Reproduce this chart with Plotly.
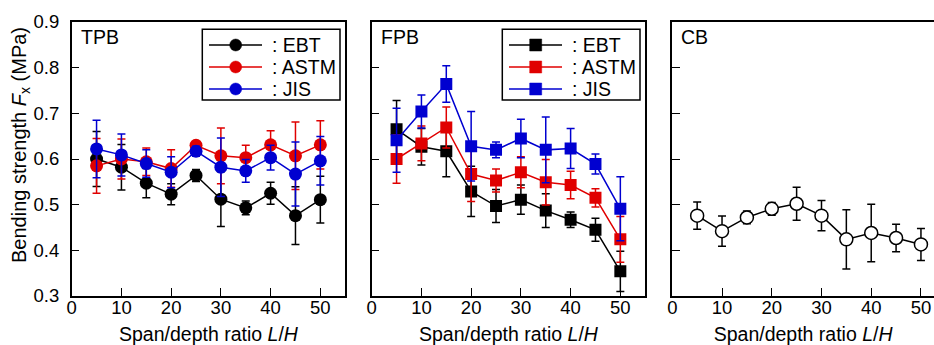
import plotly.graph_objects as go

# ---------------- data ----------------
ratio = [5, 10, 15, 20, 25, 30, 35, 40, 45, 50]

tpb_ebt = [0.600, 0.582, 0.547, 0.523, 0.564, 0.512, 0.493, 0.525, 0.476, 0.511]
tpb_ebt_err = [0.060, 0.050, 0.032, 0.023, 0.013, 0.060, 0.015, 0.024, 0.063, 0.051]
tpb_astm = [0.585, 0.600, 0.594, 0.579, 0.630, 0.607, 0.603, 0.631, 0.607, 0.631]
tpb_astm_err = [0.060, 0.044, 0.030, 0.041, 0.006, 0.061, 0.027, 0.031, 0.074, 0.053]
tpb_jis = [0.622, 0.609, 0.590, 0.571, 0.617, 0.582, 0.574, 0.603, 0.567, 0.596]
tpb_jis_err = [0.063, 0.046, 0.030, 0.034, 0.011, 0.064, 0.025, 0.027, 0.070, 0.053]

fpb_ebt = [0.665, 0.627, 0.617, 0.529, 0.497, 0.511, 0.487, 0.467, 0.445, 0.354]
fpb_ebt_err = [0.063, 0.040, 0.056, 0.055, 0.036, 0.032, 0.037, 0.017, 0.025, 0.044]
fpb_astm = [0.600, 0.634, 0.669, 0.567, 0.553, 0.571, 0.549, 0.543, 0.515, 0.424]
fpb_astm_err = [0.053, 0.038, 0.045, 0.060, 0.025, 0.034, 0.050, 0.030, 0.020, 0.050]
fpb_jis = [0.641, 0.704, 0.764, 0.628, 0.620, 0.645, 0.620, 0.623, 0.589, 0.491]
fpb_jis_err = [0.070, 0.036, 0.040, 0.076, 0.017, 0.042, 0.072, 0.044, 0.022, 0.070]

cb = [0.476, 0.442, 0.472, 0.491, 0.502, 0.476, 0.424, 0.438, 0.427, 0.413]
cb_err = [0.030, 0.033, 0.014, 0.014, 0.036, 0.033, 0.065, 0.063, 0.030, 0.035]

y_ticks = [0.3, 0.4, 0.5, 0.6, 0.7, 0.8, 0.9]
x_ticks = [0, 10, 20, 30, 40, 50]
panel_names = ["TPB", "FPB", "CB"]
method_names = [": EBT", ": ASTM", ": JIS"]

# ---------------- style ----------------
W, H = 934, 345
BLACK, RED, BLUE = "#000000", "#e00000", "#0000d0"
FONT = "Liberation Sans, Arial, sans-serif"
colors = [BLACK, RED, BLUE]

def px_x(p):
    return p / W

def px_y(p):
    return 1 - p / H

domains = [(71.7, 345.2), (371.7, 645.2), (672.3, 934.0)]
x_ranges = [[0, 55], [0, 55], [0, (934.0 - 672.3) / 4.973]]
y_dom = [px_y(296), px_y(22)]

fig = go.Figure()

def add_series(xa, ya, yvals, errs, name, color, symbol, fill=None):
    fig.add_trace(go.Scatter(
        x=ratio, y=yvals, name=name, mode="lines+markers",
        xaxis=xa, yaxis=ya, showlegend=False,
        line=dict(color=color, width=1.5),
        marker=dict(symbol=symbol, size=13 if symbol == "circle" else 12,
                    color=fill if fill else color,
                    line=dict(color=color, width=1.5 if fill else 0)),
        error_y=dict(type="data", array=errs, visible=True, color=color,
                     thickness=1.5, width=4),
    ))

tpb = [(tpb_ebt, tpb_ebt_err), (tpb_astm, tpb_astm_err), (tpb_jis, tpb_jis_err)]
fpb = [(fpb_ebt, fpb_ebt_err), (fpb_astm, fpb_astm_err), (fpb_jis, fpb_jis_err)]

for (vals, errs), nm, c in zip(tpb, method_names, colors):
    add_series("x", "y", vals, errs, "TPB " + nm, c, "circle")
for (vals, errs), nm, c in zip(fpb, method_names, colors):
    add_series("x2", "y2", vals, errs, "FPB " + nm, c, "square")
add_series("x3", "y3", cb, cb_err, "CB", BLACK, "circle", fill="white")

axis_common = dict(showgrid=False, zeroline=False, showline=True, linecolor="black",
                   linewidth=1.5, ticks="inside", ticklen=8, tickwidth=1.2,
                   tickcolor="black", automargin=False,
                   tickfont=dict(family=FONT, size=18.5, color="black"))

layout = dict(
    width=W, height=H, margin=dict(l=0, r=0, t=0, b=0, pad=0, autoexpand=False),
    paper_bgcolor="white", plot_bgcolor="white", showlegend=False,
    font=dict(family=FONT, size=18, color="black"),
)
for i in range(3):
    s = "" if i == 0 else str(i + 1)
    layout["xaxis" + s] = dict(
        axis_common, domain=[px_x(domains[i][0]), px_x(domains[i][1])],
        range=x_ranges[i], tickvals=x_ticks, anchor="y" + s, mirror=True,
        ticklabelstandoff=-6,
        title=dict(text="Span/depth ratio <i>L</i>/<i>H</i>",
                   font=dict(family=FONT, size=19.5), standoff=11),
    )
    layout["yaxis" + s] = dict(
        axis_common, domain=y_dom, range=[0.3, 0.9], tickvals=y_ticks,
        ticktext=[f"{v:.1f}" for v in y_ticks], anchor="x" + s,
        mirror=(i < 2), showticklabels=(i == 0), ticklabelstandoff=7,
    )
fig.update_layout(**layout)

# ---- legend keys drawn as shapes + text (one box in TPB and FPB panels) ----
leg_rows = [45, 67, 89]
MS = 6  # half marker size in px
for offset, sym in [(0, "circle"), (300, "rect")]:
    bx0, bx1 = 202.3 + offset, 340 + offset
    fig.add_shape(type="rect", xref="paper", yref="paper",
                  x0=px_x(bx0), x1=px_x(bx1), y0=px_y(29.3), y1=px_y(100),
                  line=dict(color="black", width=1.5), fillcolor="white", layer="above")
    for row, nm, c in zip(leg_rows, method_names, colors):
        fig.add_shape(type="line", xref="paper", yref="paper",
                      x0=px_x(209 + offset), x1=px_x(262 + offset),
                      y0=px_y(row), y1=px_y(row),
                      line=dict(color=c, width=1.5), layer="above")
        mx = 235.7 + offset
        fig.add_shape(type=sym, xref="paper", yref="paper",
                      x0=px_x(mx - MS), x1=px_x(mx + MS),
                      y0=px_y(row + MS), y1=px_y(row - MS),
                      line=dict(color=c, width=0.5), fillcolor=c, layer="above")
        fig.add_annotation(x=px_x(270 + offset), y=px_y(row), xref="paper", yref="paper",
                           text=nm, showarrow=False, xanchor="left", yanchor="middle",
                           font=dict(family=FONT, size=19.5, color="black"))

for i, name in enumerate(panel_names):
    fig.add_annotation(x=px_x(domains[i][0] + 7), y=px_y(37), xref="paper", yref="paper",
                       text=name, showarrow=False, xanchor="left", yanchor="middle",
                       font=dict(family=FONT, size=19.5, color="black"))

fig.add_annotation(x=px_x(20), y=px_y(145), xref="paper", yref="paper",
                   text="Bending strength <i>F</i><sub>x</sub> (MPa)", textangle=-90,
                   showarrow=False, xanchor="center", yanchor="middle",
                   font=dict(family=FONT, size=20, color="black"))

fig.write_html("out.html")
